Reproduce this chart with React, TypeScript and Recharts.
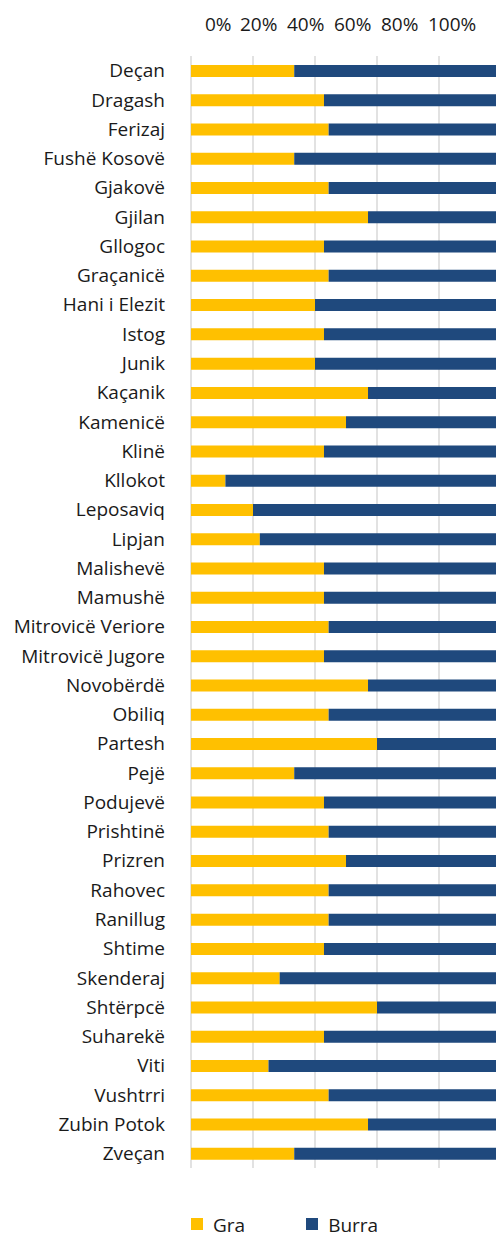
import React from 'react'
import { BarChart, Bar, XAxis, YAxis, CartesianGrid, Legend } from 'recharts'

const categories = [
  'Deçan', 'Dragash', 'Ferizaj', 'Fushë Kosovë', 'Gjakovë', 'Gjilan', 'Gllogoc',
  'Graçanicë', 'Hani i Elezit', 'Istog', 'Junik', 'Kaçanik', 'Kamenicë', 'Klinë',
  'Kllokot', 'Leposaviq', 'Lipjan', 'Malishevë', 'Mamushë', 'Mitrovicë Veriore',
  'Mitrovicë Jugore', 'Novobërdë', 'Obiliq', 'Partesh', 'Pejë', 'Podujevë',
  'Prishtinë', 'Prizren', 'Rahovec', 'Ranillug', 'Shtime', 'Skenderaj', 'Shtërpcë',
  'Suharekë', 'Viti', 'Vushtrri', 'Zubin Potok', 'Zveçan',
]

// share of women (Gra) and men (Burra), in %
const graValues = [
  33.3, 42.9, 44.4, 33.3, 44.4, 57.1, 42.9, 44.4, 40, 42.9, 40, 57.1, 50, 42.9,
  11.1, 20, 22.2, 42.9, 42.9, 44.4, 42.9, 57.1, 44.4, 60, 33.3, 42.9, 44.4, 50,
  44.4, 44.4, 42.9, 28.6, 60, 42.9, 25, 44.4, 57.1, 33.3,
]
const burraValues = [
  66.7, 57.1, 55.6, 66.7, 55.6, 42.9, 57.1, 55.6, 60, 57.1, 60, 42.9, 50, 57.1,
  88.9, 80, 77.8, 57.1, 57.1, 55.6, 57.1, 42.9, 55.6, 40, 66.7, 57.1, 55.6, 50,
  55.6, 55.6, 57.1, 71.4, 40, 57.1, 75, 55.6, 42.9, 66.7,
]

const xTicks = [0, 20, 40, 60, 80, 100]

const series = [
  { key: 'gra', label: 'Gra', color: '#FFC000' },
  { key: 'burra', label: 'Burra', color: '#1F497D' },
]

const FONT = '"Open Sans", sans-serif'

const data = categories.map((name, i) => ({
  name,
  gra: graValues[i],
  burra: burraValues[i],
}))

// top labels sit as one run of text, not under their gridlines
const TopTick = ({ y, payload, index }: any) => {
  const left = index === 0 ? 205 : 240 + (index - 1) * 47
  return (
    <text x={left} y={y} textAnchor="start" fontSize={19} fontFamily={FONT} fill="#1a1a1a">
      {`${payload.value}%`}
    </text>
  )
}

const renderLegend = () => (
  <div
    style={{
      display: 'flex',
      alignItems: 'center',
      height: 24,
      paddingLeft: 191,
      fontFamily: FONT,
      fontSize: 19,
      lineHeight: '24px',
      color: '#1a1a1a',
    }}
  >
    {series.map((s, i) => (
      <div key={s.key} style={{ display: 'flex', alignItems: 'center', marginRight: i === 0 ? 61 : 0 }}>
        <span style={{ width: 12, height: 12, background: s.color, marginRight: 10, marginTop: -3 }} />
        <span>{s.label}</span>
      </div>
    ))}
  </div>
)

export default function App() {
  return (
    <div style={{ position: 'absolute', left: 0, top: 0, width: 496, height: 1237, overflow: 'hidden', background: '#fff' }}>
      <BarChart
        width={510}
        height={1237}
        data={data}
        layout="vertical"
        barSize={12}
        margin={{ top: 0, right: 9, left: 0, bottom: 45 }}
      >
        <CartesianGrid horizontal={false} stroke="#D9D9D9" strokeWidth={1.5} />
        <XAxis
          type="number"
          orientation="top"
          domain={[0, 100]}
          ticks={xTicks}
          height={56}
          axisLine={false}
          tickLine={false}
          tickMargin={19}
          tick={<TopTick />}
        />
        <YAxis
          type="category"
          dataKey="name"
          width={191}
          axisLine={false}
          tickLine={false}
          tickMargin={20}
          interval={0}
          tick={{ fontSize: 19, fontFamily: FONT, fill: '#1a1a1a' }}
        />
        <Legend verticalAlign="bottom" content={renderLegend} wrapperStyle={{ bottom: 0, left: 0 }} />
        {series.map((s) => (
          <Bar key={s.key} dataKey={s.key} name={s.label} stackId="a" fill={s.color} isAnimationActive={false} />
        ))}
      </BarChart>
    </div>
  )
}
